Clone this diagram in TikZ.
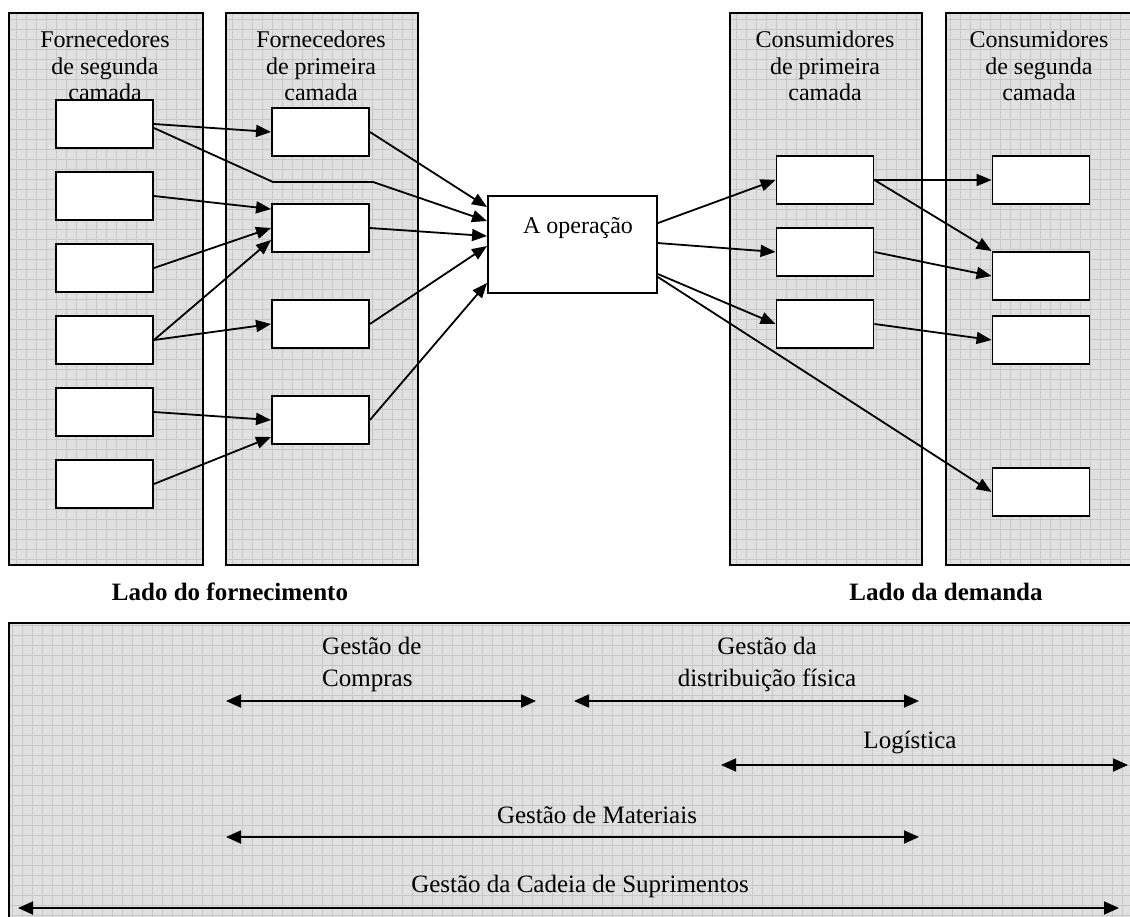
\documentclass[tikz,border=0pt]{standalone}
\usepackage{fontspec}
\setmainfont{Liberation Serif}
\usetikzlibrary{arrows.meta,calc}
\definecolor{panelbg}{HTML}{E0E0E0}
\definecolor{panelgrid}{HTML}{C8C8C8}
\begin{document}
\begin{tikzpicture}[x=1pt,y=-1pt,
  panel/.style={draw=black, line width=2pt, fill=panelbg, rectangle, inner sep=0pt,
    anchor=north west,
    path picture={\draw[panelgrid, line width=0.7pt]
      (path picture bounding box.south west) grid[step=10pt]
      (path picture bounding box.north east);}},
  slot/.style={draw=black, line width=1.9pt, fill=white, rectangle, inner sep=0pt,
    minimum width=97pt, minimum height=48pt},
  headtxt/.style={align=center, inner sep=0pt, font=\fontsize{24}{26.5}\selectfont},
  sidetxt/.style={inner sep=0pt, font=\fontsize{25}{30}\selectfont\bfseries},
  lbl/.style={inner sep=0pt, font=\fontsize{25}{32}\selectfont},
  arr/.style={line width=1.8pt, -{Triangle[length=15pt,width=12pt]}},
  darr/.style={line width=1.8pt, {Triangle[length=15pt,width=13pt]}-{Triangle[length=15pt,width=13pt]}}
]
\useasboundingbox (0,0) rectangle (1130,917);

% shaded columns and the lower band
\node[panel, minimum width=194pt, minimum height=552pt] (colA) at (8,12) {};
\node[panel, minimum width=192pt, minimum height=552pt] (colB) at (225,12) {};
\node[panel, minimum width=192pt, minimum height=552pt] (colC) at (729,12) {};
\node[panel, minimum width=188pt, minimum height=552pt] (colD) at (945,12) {};
\node[panel, minimum width=1126pt, minimum height=305pt] (band) at (8,622) {};

% column headings
\node[headtxt] (hA) at (105,66) {Fornecedores\\de segunda\\camada};
\node[headtxt] (hB) at (321,66) {Fornecedores\\de primeira\\camada};
\node[headtxt] (hC) at (825,66) {Consumidores\\de primeira\\camada};
\node[headtxt] (hD) at (1039,66) {Consumidores\\de segunda\\camada};

% second-tier suppliers
\node[slot] (a1) at (104.5,124) {};
\node[slot] (a2) at (104.5,196) {};
\node[slot] (a3) at (104.5,268) {};
\node[slot] (a4) at (104.5,340) {};
\node[slot] (a5) at (104.5,412) {};
\node[slot] (a6) at (104.5,484) {};

% first-tier suppliers
\node[slot] (b1) at (320.5,132) {};
\node[slot] (b2) at (320.5,228) {};
\node[slot] (b3) at (320.5,324) {};
\node[slot] (b4) at (320.5,420) {};

% the operation
\node[slot, minimum width=169pt, minimum height=97pt] (op) at (572.5,244.5) {};
\node[inner sep=0pt, font=\fontsize{24}{26.5}\selectfont] (optxt) at (578,228) {A operação};

% first-tier customers
\node[slot] (c1) at (825,180) {};
\node[slot] (c2) at (825,252) {};
\node[slot] (c3) at (825,324) {};

% second-tier customers
\node[slot] (d1) at (1041,180) {};
\node[slot] (d2) at (1041,276) {};
\node[slot] (d3) at (1041,340) {};
\node[slot] (d4) at (1041,492) {};

% supply side flows
\draw[arr] (a1.east) -- (b1.west);
\coordinate (kinkA) at (273,182);
\coordinate (kinkB) at (373,182);
\draw[arr] ($(a1.east)+(0,4)$) -- (kinkA) -- (kinkB) -- ($(op.north west)+(0,26)$);
\draw[arr] (a2.east) -- ($(b2.north west)+(0,6)$);
\draw[arr] (a3.east) -- (b2.west);
\draw[arr] (a4.east) -- ($(b2.west)+(0,12)$);
\draw[arr] (a4.east) -- (b3.west);
\draw[arr] (a5.east) -- (b4.west);
\draw[arr] (a6.east) -- ($(b4.west)+(0,17)$);
\draw[arr] (b1.east) -- ($(op.north west)+(0,12)$);
\draw[arr] (b2.east) -- ($(op.north west)+(0,41)$);
\draw[arr] (b3.east) -- ($(op.north west)+(0,51)$);
\draw[arr] (b4.east) -- ($(op.south west)+(0,-11)$);

% demand side flows
\draw[arr] ($(op.north east)+(0,28)$) -- (c1.west);
\draw[arr] ($(op.north east)+(0,48)$) -- (c2.west);
\draw[arr] ($(op.north east)+(0,79)$) -- (c3.west);
\draw[arr] ($(op.north east)+(0,82)$) -- (d4.west);
\draw[arr] (c1.east) -- (d1.west);
\draw[arr] (c1.east) -- (d2.north west);
\draw[arr] (c2.east) -- (d2.west);
\draw[arr] (c3.east) -- (d3.west);

% side captions
\node[sidetxt] (supside) at (230,592) {Lado do fornecimento};
\node[sidetxt] (demside) at (946,592) {Lado da demanda};

% scope labels
\node[lbl, align=left, anchor=west] (lCompras) at (322,664) {Gestão de\\Compras};
\node[lbl, align=center] (lDist) at (767,664) {Gestão da\\distribuição física};
\node[lbl] (lLog) at (910,743) {Logística};
\node[lbl] (lMat) at (597,815) {Gestão de Materiais};
\node[lbl] (lSCM) at (580,886) {Gestão da Cadeia de Suprimentos};

% scope spans
\coordinate (cmpL) at (226,701);  \coordinate (cmpR) at (536,701);
\coordinate (dstL) at (574,701);  \coordinate (dstR) at (919,701);
\coordinate (logL) at (721,765);  \coordinate (logR) at (1128,765);
\coordinate (matL) at (226,837);  \coordinate (matR) at (919,837);
\coordinate (scmL) at (18,908);   \coordinate (scmR) at (1119,908);
\draw[darr] (cmpL) -- (cmpR);
\draw[darr] (dstL) -- (dstR);
\draw[darr] (logL) -- (logR);
\draw[darr] (matL) -- (matR);
\draw[darr] (scmL) -- (scmR);
\end{tikzpicture}
\end{document}
